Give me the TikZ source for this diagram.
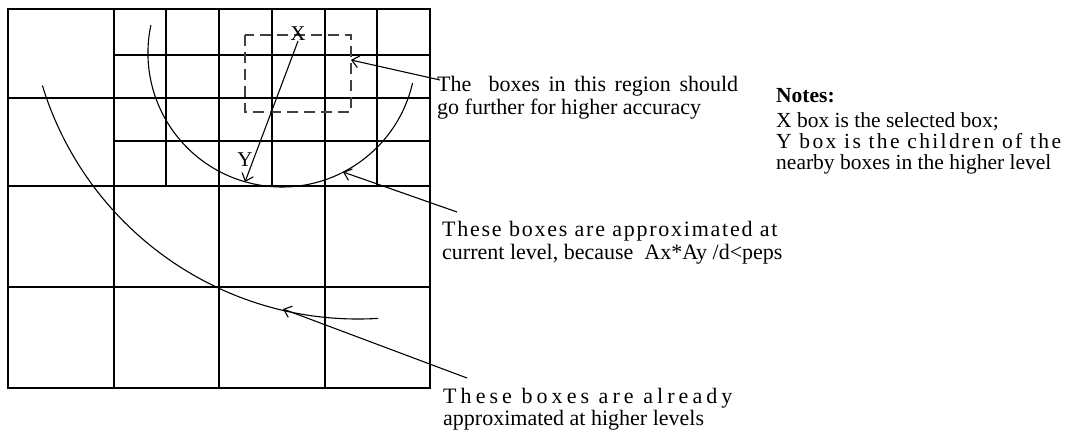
\documentclass[tikz,border=0pt]{standalone}
\usepackage{fontspec}
\setmainfont{Liberation Serif}
\usetikzlibrary{arrows.meta}
\tikzset{
  gridline/.style={line width=1.5pt},
  curve/.style={line width=1.1pt},
  pointer/.style={line width=1.1pt,-{Straight Barb[length=7pt,width=12pt]}},
  txt/.style={anchor=base west,inner sep=0pt,font=\fontsize{22}{23}\selectfont},
  notetxt/.style={anchor=north west,inner sep=0pt,align=left,font=\fontsize{21.5}{21}\selectfont},
  boxlabel/.style={inner sep=0pt,font=\fontsize{21}{21}\selectfont}
}

\begin{document}
\begin{tikzpicture}[x=1pt,y=-1pt]
  \useasboundingbox (0,0) rectangle (1073,433);
  \draw[gridline] (8,9) rectangle (430,388);
  \draw[gridline] (8,98)--(430,98); \draw[gridline] (8,186)--(430,186);
  \draw[gridline] (8,287)--(430,287);
  \draw[gridline] (114,55)--(430,55); \draw[gridline] (114,141)--(430,141);
  \draw[gridline] (114,9)--(114,388); \draw[gridline] (219,9)--(219,388);
  \draw[gridline] (325,9)--(325,388);
  \draw[gridline] (166,9)--(166,186); \draw[gridline] (272,9)--(272,186);
  \draw[gridline] (377,9)--(377,186);
  \draw[line width=1.3pt,black!75,dash pattern=on 11pt off 6pt] (245,35) rectangle (351,112);
  \draw[curve] (150.9,25.1) arc[start angle=168,end angle=347,radius=134pt];
  \draw[curve] (42.4,85.5) arc[start angle=197,end angle=273.5,radius=330pt];
  \node[boxlabel] (xbox) at (298,34) {X};
  \node[boxlabel] (ybox) at (245,160) {Y};
  \coordinate (ytip) at (245,182);
  \coordinate (boxtip) at (351,60);
  \coordinate (rimtip) at (343,172);
  \coordinate (outtip) at (283,309);
  \coordinate (boxfrom) at (440,80);
  \coordinate (rimfrom) at (457,212);
  \coordinate (outfrom) at (467,378);
  \node[txt] (further1) at (437,92) {\makebox[301pt][s]{The\ \ boxes in this region should}};
  \node[txt] (further2) at (437,115) {go further for higher accuracy};
  \node[txt] (current1) at (442,236) {{\addfontfeature{LetterSpace=8}These boxes are approximated at}};
  \node[txt] (current2) at (442,259) {current level, because\ \ Ax*Ay /d<peps};
  \node[txt] (higher1) at (443,403) {{\addfontfeature{LetterSpace=18.5}These boxes are already}};
  \node[txt] (higher2) at (443,425) {approximated at higher levels};
  \node[notetxt] (notes) at (776,88) {\textbf{Notes:}\\[4pt]
    X box is the selected box;\\
    {\addfontfeature{LetterSpace=11}Y box is the children of the}\\
    nearby boxes in the higher level};
  \draw[pointer] (xbox.south)--(ytip);
  \draw[pointer] (boxfrom)--(boxtip);
  \draw[pointer] (rimfrom)--(rimtip);
  \draw[pointer] (outfrom)--(outtip);
\end{tikzpicture}
\end{document}
